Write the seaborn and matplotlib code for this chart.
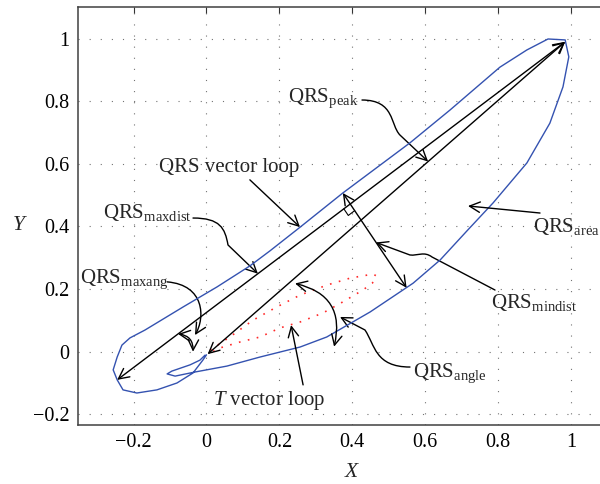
import numpy as np
import matplotlib
matplotlib.use("Agg")
import matplotlib.pyplot as plt
import seaborn as sns
from matplotlib.patches import FancyArrowPatch
from matplotlib.path import Path

# ── QRS vector loop (blue), traced from the origin round the loop ─────────────
qrs_x = [0.000, -0.010, -0.037, -0.081, -0.136, -0.191, -0.229, -0.245, -0.256,
         -0.245, -0.232, -0.210, -0.169, -0.064, 0.029, 0.119, 0.174, 0.257,
         0.374, 0.558, 0.668, 0.805, 0.879, 0.937, 0.984, 0.994, 0.978, 0.942,
         0.879, 0.786, 0.717, 0.641, 0.567, 0.449, 0.330, 0.257, 0.147, 0.056,
         -0.032, -0.086, -0.108, -0.095, -0.045, -0.018, -0.004]
qrs_y = [-0.010, -0.027, -0.068, -0.100, -0.122, -0.132, -0.122, -0.090, -0.058,
         -0.017, 0.021, 0.044, 0.069, 0.143, 0.207, 0.274, 0.322, 0.398,
         0.507, 0.667, 0.772, 0.909, 0.964, 0.999, 0.996, 0.942, 0.846, 0.730,
         0.603, 0.475, 0.389, 0.293, 0.219, 0.127, 0.047, 0.015, -0.017, -0.046,
         -0.065, -0.078, -0.071, -0.062, -0.042, -0.027, -0.011]

# ── T vector loop (red dotted) ────────────────────────────────────────────────
t_x = [0.010, 0.064, 0.128, 0.193, 0.257, 0.331, 0.394, 0.457, 0.466, 0.455,
       0.429, 0.374, 0.320, 0.257, 0.202, 0.147, 0.092, 0.037, 0.010]
t_y = [0.005, 0.047, 0.101, 0.143, 0.181, 0.213, 0.235, 0.248, 0.242, 0.219,
       0.197, 0.159, 0.124, 0.095, 0.076, 0.047, 0.031, 0.012, -0.004]

# ── Key points of the loop ────────────────────────────────────────────────────
qrs_origin = (0.003, -0.008)
qrs_peak = (0.984, 0.990)
qrs_far = (-0.245, -0.090)        # far end of the maxdist vector
mindist_top = (0.374, 0.507)
mindist_bottom = (0.549, 0.204)

ticks = [-0.2, 0, 0.2, 0.4, 0.6, 0.8, 1]
tick_labels = ["\u22120.2", "0", "0.2", "0.4", "0.6", "0.8", "1"]

FS = 14.5      # tick labels
FS_TXT = 15    # annotations
HEAD = "head_length=0.5,head_width=0.25"


def on_line(p, q, x):
    """Point of the line p-q at abscissa x"""
    return (x, p[1] + (q[1] - p[1]) * (x - p[0]) / (q[0] - p[0]))


def arrow(ax, start, end, style="->", rad=0.0):
    ax.annotate(
        "", xy=end, xytext=start,
        arrowprops=dict(
            arrowstyle=f"{style},{HEAD}",
            connectionstyle=f"arc3,rad={rad}",
            color="black", lw=1.0, shrinkA=0, shrinkB=0, mutation_scale=15
        )
    )


def leader(ax, verts, codes):
    patch = FancyArrowPatch(
        path=Path(verts, codes), arrowstyle=f"->,{HEAD}",
        color="black", lw=1.0, mutation_scale=15
    )
    ax.add_patch(patch)


def right_angle(ax, p1, p2, q1, q2, size=8):
    """Small square where line p1-p2 meets line q1-q2 (worked out in pixels)"""
    T = ax.transData
    a1, a2, b1, b2 = [np.array(T.transform(p)) for p in (p1, p2, q1, q2)]
    d1, d2 = a2 - a1, b2 - b1
    w = b1 - a1
    t = (w[0] * d2[1] - w[1] * d2[0]) / (d1[0] * d2[1] - d1[1] * d2[0])
    corner = a1 + t * d1
    u1 = -d1 / np.linalg.norm(d1)
    u2 = d2 / np.linalg.norm(d2)
    pts = np.array([corner + size * u1, corner + size * (u1 + u2), corner + size * u2])
    pts = T.inverted().transform(pts)
    ax.plot(pts[:, 0], pts[:, 1], color="black", lw=0.8)


sns.set_style("white")
plt.rcParams["font.family"] = ["Liberation Serif", "DejaVu Serif"]
plt.rcParams["mathtext.fontset"] = "custom"
plt.rcParams["mathtext.rm"] = "Liberation Serif"
plt.rcParams["mathtext.it"] = "Liberation Serif:italic"

fig = plt.figure(figsize=(6, 4.84), dpi=100)
ax = fig.add_axes([0.13, 0.1219, 0.91, 0.8643])

sns.lineplot(x=qrs_x, y=qrs_y, sort=False, estimator=None,
             color="#3452B0", lw=1.0, ax=ax)
sns.lineplot(x=t_x, y=t_y, sort=False, estimator=None,
             color="#FF2A2A", lw=1.2, linestyle=(0, (1, 4.5)), ax=ax)

ax.set_xlim(-0.3525, 1.1454)
ax.set_ylim(-0.2342, 1.1022)
ax.set_xticks(ticks)
ax.set_xticklabels(tick_labels)
ax.set_yticks(ticks)
ax.set_yticklabels(tick_labels)
ax.grid(True, color="0.45", linestyle=(0, (1, 9)), lw=0.8)
ax.tick_params(direction="in", top=True, right=True, length=4, width=0.8,
               labelsize=FS, pad=6, colors="0.2", labelcolor="black")
for sp in ax.spines.values():
    sp.set_color("0.25")
    sp.set_linewidth(1.1)

ax.set_xlabel("X", fontstyle="italic", fontsize=FS + 1)
ax.xaxis.set_label_coords(0.5, -0.091)
ax.set_ylabel("Y", fontstyle="italic", fontsize=FS + 1, rotation=0,
              va="center", ha="center")
ax.yaxis.set_label_coords(-0.108, 0.476)

# ── Vectors ──────────────────────────────────────────────────────────────────
arrow(ax, qrs_far, qrs_peak, "<->")
arrow(ax, qrs_origin, qrs_peak, "<->")
arrow(ax, mindist_top, mindist_bottom, "<->")
right_angle(ax, qrs_far, qrs_peak, mindist_top, mindist_bottom)

# angle arcs
arrow(ax, on_line(qrs_far, qrs_peak, -0.078), (-0.037, 0.0), "<->", rad=-0.45)
arrow(ax, (0.243, 0.218), (0.350, 0.016), "<->", rad=-0.5)

# ── Labels with their leaders ────────────────────────────────────────────────
C4, L2, M = Path.CURVE4, Path.LINETO, Path.MOVETO

ax.text(0.2236, 0.799, r"QRS$_{\mathrm{peak}}$", fontsize=FS_TXT)
leader(ax, [(0.4266, 0.804), (0.5171, 0.804), (0.5034, 0.725), (0.5309, 0.692),
            on_line(qrs_origin, qrs_peak, 0.608)],
       [M, C4, C4, C4, L2])

ax.text(-0.130, 0.5725, "QRS vector loop", fontsize=FS_TXT)
arrow(ax, (0.119, 0.549), (0.2565, 0.398))

ax.text(-0.284, 0.427, r"QRS$_{\mathrm{maxdist}}$", fontsize=FS_TXT)
leader(ax, [(-0.037, 0.427), (0.037, 0.427), (0.0508, 0.395), (0.059, 0.341),
            on_line(qrs_far, qrs_peak, 0.141)],
       [M, C4, C4, C4, L2])

ax.text(-0.347, 0.221, r"QRS$_{\mathrm{maxang}}$", fontsize=FS_TXT)
leader(ax, [(-0.108, 0.223), (-0.004, 0.213), (-0.004, 0.108), (-0.0316, 0.053)],
       [M, C4, C4, C4])

ax.text(0.896, 0.382, r"QRS$_{\mathrm{area}}$", fontsize=FS_TXT)
arrow(ax, (0.915, 0.443), (0.7174, 0.4655))

ax.text(0.780, 0.140, r"QRS$_{\mathrm{mindist}}$", fontsize=FS_TXT)
leader(ax, [(0.7915, 0.197), (0.6187, 0.3025), (0.5967, 0.3217), (0.580, 0.3058),
            (0.558, 0.309), (0.465, 0.349)],
       [M, L2, C4, C4, C4, L2])

ax.text(0.5665, -0.081, r"QRS$_{\mathrm{angle}}$", fontsize=FS_TXT)
leader(ax, [(0.5583, -0.049), (0.4623, -0.049), (0.4623, 0.0214), (0.4348, 0.0693),
            (0.3663, 0.111)],
       [M, C4, C4, C4, L2])

ax.text(0.018, -0.170, r"$T$ vector loop", fontsize=FS_TXT)
arrow(ax, (0.265, -0.106), (0.232, 0.085))

fig.savefig("out.png", dpi=100)
plt.close(fig)
